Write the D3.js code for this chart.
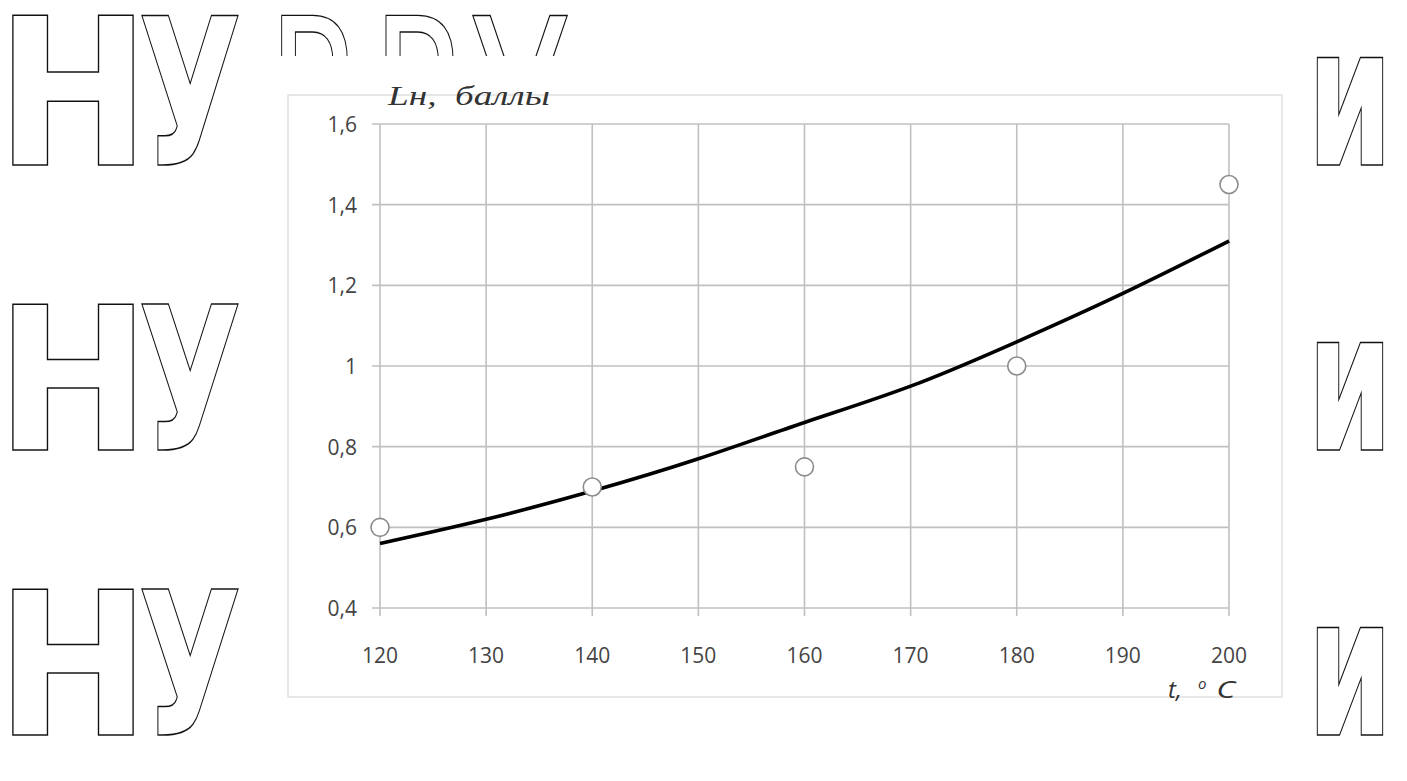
<!DOCTYPE html>
<html><head><meta charset="utf-8">
<script src="https://cdn.jsdelivr.net/npm/d3@7"></script>
<style>html,body{margin:0;padding:0;background:#fff;}svg{display:block;}</style>
</head><body>
<script>
// Data
const temps = [120, 140, 160, 180, 200];
const scores = [0.6, 0.7, 0.75, 1.0, 1.45];
const trendTemps = [120, 130, 140, 150, 160, 170, 180, 190, 200];
const trendValues = [0.56, 0.62, 0.69, 0.77, 0.86, 0.95, 1.06, 1.18, 1.31];
const xTicks = [120, 130, 140, 150, 160, 170, 180, 190, 200];
const yTicks = [0.4, 0.6, 0.8, 1.0, 1.2, 1.4, 1.6];
const yTitle = "Lн,  баллы";
const xTitle = "t,";

const W = 1407, H = 781;
const svg = d3.select("body").append("svg").attr("width", W).attr("height", H);

// watermark (outlined large letters behind the chart)
const wm = svg.append("g").attr("fill", "#fff").attr("stroke", "#111").attr("stroke-width", 1.5)
  .attr("font-family", "DejaVu Sans").attr("font-weight", "bold");
const rowBases = [165, 450, 735];
rowBases.forEach((base, i) => {
  const fs = i === 0 ? 205 : 200;
  wm.append("text").attr("x", -4).attr("y", base).attr("font-size", fs)
    .attr("textLength", 154).attr("lengthAdjust", "spacingAndGlyphs").text("Н");
  wm.append("text").attr("x", 138).attr("y", base).attr("font-size", fs)
    .attr("textLength", 104).attr("lengthAdjust", "spacingAndGlyphs").text("У");
  wm.append("text").attr("x", 1307).attr("y", base).attr("font-size", 196)
    .attr("textLength", 86).attr("lengthAdjust", "spacingAndGlyphs").text("и");
});
// partial letters of the first watermark row, peeking above the chart
svg.append("clipPath").attr("id", "topclip").append("rect")
  .attr("x", 265).attr("y", 0).attr("width", 920).attr("height", 56);
const wmTop = svg.append("g").attr("clip-path", "url(#topclip)")
  .attr("fill", "#fff").attr("stroke", "#111").attr("stroke-width", 1.4)
  .attr("font-family", "DejaVu Sans").attr("font-size", 205);
[["Р", 268, 84], ["Р", 372, 86], ["У", 470, 100]].forEach(([t, x0, w]) => {
  wmTop.append("text").attr("x", x0).attr("y", 165)
    .attr("textLength", w).attr("lengthAdjust", "spacingAndGlyphs").text(t);
});

// chart area
svg.append("rect").attr("x", 288).attr("y", 95).attr("width", 994).attr("height", 602)
  .attr("fill", "#fff").attr("stroke", "#e0e0e0").attr("stroke-width", 1.5);

const x = d3.scaleLinear().domain([120, 200]).range([380, 1229]);
const y = d3.scaleLinear().domain([0.4, 1.6]).range([608, 124]);

const grid = svg.append("g").attr("stroke", "#c0c0c0").attr("stroke-width", 1.6);
grid.selectAll("line.v").data(xTicks).join("line")
  .attr("x1", d => x(d)).attr("x2", d => x(d)).attr("y1", y(1.6)).attr("y2", y(0.4) + 8);
grid.selectAll("line.h").data(yTicks).join("line")
  .attr("x1", x(120) - 8).attr("x2", x(200)).attr("y1", d => y(d)).attr("y2", d => y(d));

const fmt = d => d3.format(".1f")(d).replace(".", ",").replace(/^1,0$/, "1");
svg.append("g").selectAll("text").data(yTicks).join("text")
  .attr("x", 357).attr("y", d => y(d) + 8).attr("text-anchor", "end")
  .attr("font-family", "Open Sans, Liberation Sans, sans-serif").attr("font-size", 21)
  .attr("fill", "#444").text(fmt);
svg.append("g").selectAll("text").data(xTicks).join("text")
  .attr("x", d => x(d)).attr("y", 663).attr("text-anchor", "middle")
  .attr("font-family", "Open Sans, Liberation Sans, sans-serif").attr("font-size", 21)
  .attr("fill", "#444").text(d => d);

// trend line
const line = d3.line().x((d, i) => x(trendTemps[i])).y(d => y(d)).curve(d3.curveNatural);
svg.append("path").datum(trendValues).attr("d", line)
  .attr("fill", "none").attr("stroke", "#000").attr("stroke-width", 3.6);

// markers
svg.append("g").selectAll("circle").data(scores).join("circle")
  .attr("cx", (d, i) => x(temps[i])).attr("cy", d => y(d)).attr("r", 9)
  .attr("fill", "#fff").attr("stroke", "#8c8c8c").attr("stroke-width", 1.6);

// titles
svg.append("text").attr("x", 388).attr("y", 105)
  .attr("font-family", "Liberation Serif, Times New Roman, serif").attr("font-style", "italic")
  .attr("font-size", 28).attr("fill", "#333").attr("xml:space", "preserve")
  .attr("textLength", 162).attr("lengthAdjust", "spacingAndGlyphs").text(yTitle);
const xt = svg.append("text").attr("x", 1168).attr("y", 698)
  .attr("font-family", "Open Sans, Liberation Sans, sans-serif").attr("font-style", "italic")
  .attr("font-size", 24).attr("fill", "#333");
xt.append("tspan").text(xTitle);
xt.append("tspan").attr("dx", 16).attr("dy", -9).attr("font-size", 15).text("o");
xt.append("tspan").attr("dx", 10).attr("dy", 9).attr("textLength", 19).attr("lengthAdjust", "spacingAndGlyphs").text("C");
</script>
</body></html>
